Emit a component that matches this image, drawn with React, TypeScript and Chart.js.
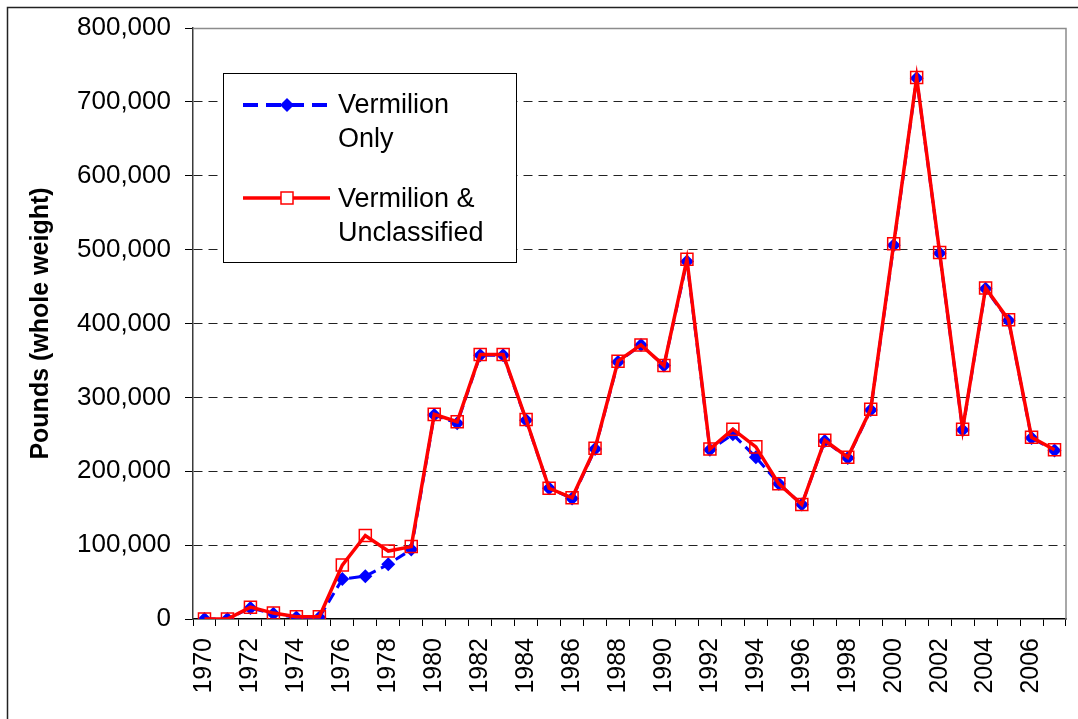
import React, { useEffect, useRef } from "react";
import { Chart, registerables } from "chart.js";

Chart.register(...registerables);

const years: string[] = [
  "1970", "1971", "1972", "1973", "1974", "1975", "1976", "1977", "1978", "1979",
  "1980", "1981", "1982", "1983", "1984", "1985", "1986", "1987", "1988", "1989",
  "1990", "1991", "1992", "1993", "1994", "1995", "1996", "1997", "1998", "1999",
  "2000", "2001", "2002", "2003", "2004", "2005", "2006", "2007",
];

const vermilionOnly: number[] = [
  0, 0, 15000, 7000, 2000, 2000, 54000, 58000, 74000, 94000,
  276000, 265000, 357000, 357000, 269000, 177000, 163000, 230000, 348000, 371000,
  343000, 484000, 229000, 250000, 219000, 183000, 155000, 241000, 218000, 283000,
  506000, 732000, 495000, 256000, 447000, 404000, 245000, 228000,
];

const vermilionUnclassified: number[] = [
  0, 0, 16000, 8000, 3000, 3000, 73000, 113000, 92000, 98000,
  277000, 267000, 358000, 358000, 270000, 177000, 164000, 231000, 349000, 371000,
  343000, 487000, 230000, 257000, 233000, 183000, 155000, 242000, 219000, 284000,
  508000, 733000, 496000, 257000, 448000, 405000, 246000, 229000,
];

const yTicks: number[] = [0, 100000, 200000, 300000, 400000, 500000, 600000, 700000, 800000];

const legendLabels: string[][] = [
  ["Vermilion", "Only"],
  ["Vermilion &", "Unclassified"],
];

const FONT = "'Liberation Sans', Arial, sans-serif";
const W = 1078;
const H = 719;

const framePlugin = {
  id: "frame",
  beforeDatasetsDraw(chart: any) {
    const { ctx, chartArea } = chart;
    const { left, top, right, bottom } = chartArea;
    ctx.save();
    ctx.strokeStyle = "#8c8c8c";
    ctx.lineWidth = 1.5;
    ctx.beginPath();
    ctx.moveTo(left, top + 0.5);
    ctx.lineTo(right, top + 0.5);
    ctx.lineTo(right, bottom);
    ctx.stroke();
    ctx.restore();
  },
  afterDraw(chart: any) {
    const { ctx } = chart;
    ctx.save();
    // outer border
    ctx.strokeStyle = "#222";
    ctx.lineWidth = 1.5;
    ctx.beginPath();
    ctx.moveTo(7.5, H);
    ctx.lineTo(7.5, 7.5);
    ctx.lineTo(W, 7.5);
    ctx.stroke();

    // legend
    const bx = 223.5, by = 73.5, bw = 293, bh = 189;
    ctx.fillStyle = "#fff";
    ctx.fillRect(bx, by, bw, bh);
    ctx.strokeStyle = "#000";
    ctx.lineWidth = 1;
    ctx.strokeRect(bx, by, bw, bh);

    const ds = chart.data.datasets;
    const blue = ds[1];
    const red = ds[0];
    const x0 = 243, x1 = 330, xm = 287;
    let y = 105;
    ctx.strokeStyle = blue.borderColor;
    ctx.lineWidth = 4;
    ctx.setLineDash([15, 8]);
    ctx.beginPath();
    ctx.moveTo(x0, y);
    ctx.lineTo(x1, y);
    ctx.stroke();
    ctx.setLineDash([]);
    ctx.fillStyle = blue.pointBackgroundColor;
    ctx.beginPath();
    ctx.moveTo(xm, y - 7);
    ctx.lineTo(xm + 7, y);
    ctx.lineTo(xm, y + 7);
    ctx.lineTo(xm - 7, y);
    ctx.closePath();
    ctx.fill();

    y = 198;
    ctx.strokeStyle = red.borderColor;
    ctx.lineWidth = 3.5;
    ctx.beginPath();
    ctx.moveTo(x0, y);
    ctx.lineTo(xm - 6, y);
    ctx.moveTo(xm + 6, y);
    ctx.lineTo(x1, y);
    ctx.stroke();
    ctx.lineWidth = 1.5;
    ctx.strokeRect(xm - 6, y - 6, 12, 12);

    ctx.fillStyle = "#000";
    ctx.font = `27px ${FONT}`;
    ctx.textAlign = "left";
    ctx.textBaseline = "alphabetic";
    ctx.fillText(legendLabels[0][0], 338, 113);
    ctx.fillText(legendLabels[0][1], 338, 147);
    ctx.fillText(legendLabels[1][0], 338, 207);
    ctx.fillText(legendLabels[1][1], 338, 241);
    ctx.restore();
  },
};

export default function App() {
  const ref = useRef<HTMLCanvasElement | null>(null);

  useEffect(() => {
    if (!ref.current) return;
    const chart = new Chart(ref.current, {
      type: "line",
      data: {
        labels: years,
        datasets: [
          {
            label: "Vermilion & Unclassified",
            data: vermilionUnclassified,
            borderColor: "#ff0000",
            borderWidth: 3.5,
            pointStyle: "rect",
            pointRadius: 8.5,
            pointBorderWidth: 1.5,
            pointBorderColor: "#ff0000",
            pointBackgroundColor: "rgba(0,0,0,0)",
            backgroundColor: "rgba(0,0,0,0)",
            tension: 0,
            order: 0,
          },
          {
            label: "Vermilion Only",
            data: vermilionOnly,
            borderColor: "#0000ff",
            borderWidth: 3,
            borderDash: [11, 6],
            pointStyle: "rectRot",
            pointRadius: 7,
            pointBorderWidth: 0,
            pointBorderColor: "#0000ff",
            pointBackgroundColor: "#0000ff",
            backgroundColor: "rgba(0,0,0,0)",
            tension: 0,
            order: 1,
          },
        ],
      },
      options: {
        responsive: false,
        animation: false,
        layout: { padding: { left: 0, top: 28, right: 12, bottom: 0 } },
        plugins: {
          legend: { display: false },
          tooltip: { enabled: false },
          title: { display: false },
        },
        scales: {
          x: {
            type: "category",
            offset: true,
            afterFit(scale: any) {
              scale.height = 100;
              scale.paddingLeft = 0;
              scale.paddingRight = 0;
            },
            grid: {
              display: true,
              offset: true,
              drawOnChartArea: false,
              drawTicks: true,
              tickLength: 7,
              tickColor: "#000",
              tickWidth: 1,
            },
            border: { display: true, color: "#000", width: 1.5 },
            ticks: {
              autoSkip: false,
              minRotation: 90,
              maxRotation: 90,
              padding: 12,
              color: "#000",
              font: { family: FONT, size: 25 },
              callback(_v: any, i: number) {
                return i % 2 === 0 ? years[i] : "";
              },
            },
          },
          y: {
            min: 0,
            max: 800000,
            afterFit(scale: any) {
              scale.width = 193;
              scale.paddingTop = 0;
              scale.paddingBottom = 0;
            },
            afterBuildTicks(scale: any) {
              scale.ticks = yTicks.map((v) => ({ value: v }));
            },
            grid: {
              display: true,
              drawOnChartArea: true,
              drawTicks: true,
              tickLength: 8,
              tickColor: "#000",
              tickWidth: 1,
              lineWidth: 1,
              color: (c: any) =>
                c.tick && (c.tick.value === 0 || c.tick.value === 800000)
                  ? "rgba(0,0,0,0)"
                  : "#222",
            },
            border: { display: true, color: "#3a3a3a", width: 1.5, dash: [9, 6] },
            ticks: {
              padding: 14,
              color: "#000",
              font: { family: FONT, size: 26 },
              callback(v: any) {
                return Number(v).toLocaleString("en-US");
              },
            },
            title: {
              display: true,
              text: "Pounds (whole weight)",
              color: "#000",
              font: { family: FONT, size: 25, weight: "bold" },
              padding: { top: 26, bottom: 0 },
            },
          },
        },
      },
      plugins: [framePlugin],
    } as any);
    return () => chart.destroy();
  }, []);

  return (
    <div style={{ position: "fixed", left: 0, top: 0, width: W, height: H, background: "#fff" }}>
      <canvas ref={ref} width={W} height={H} style={{ display: "block", width: W, height: H }} />
    </div>
  );
}
